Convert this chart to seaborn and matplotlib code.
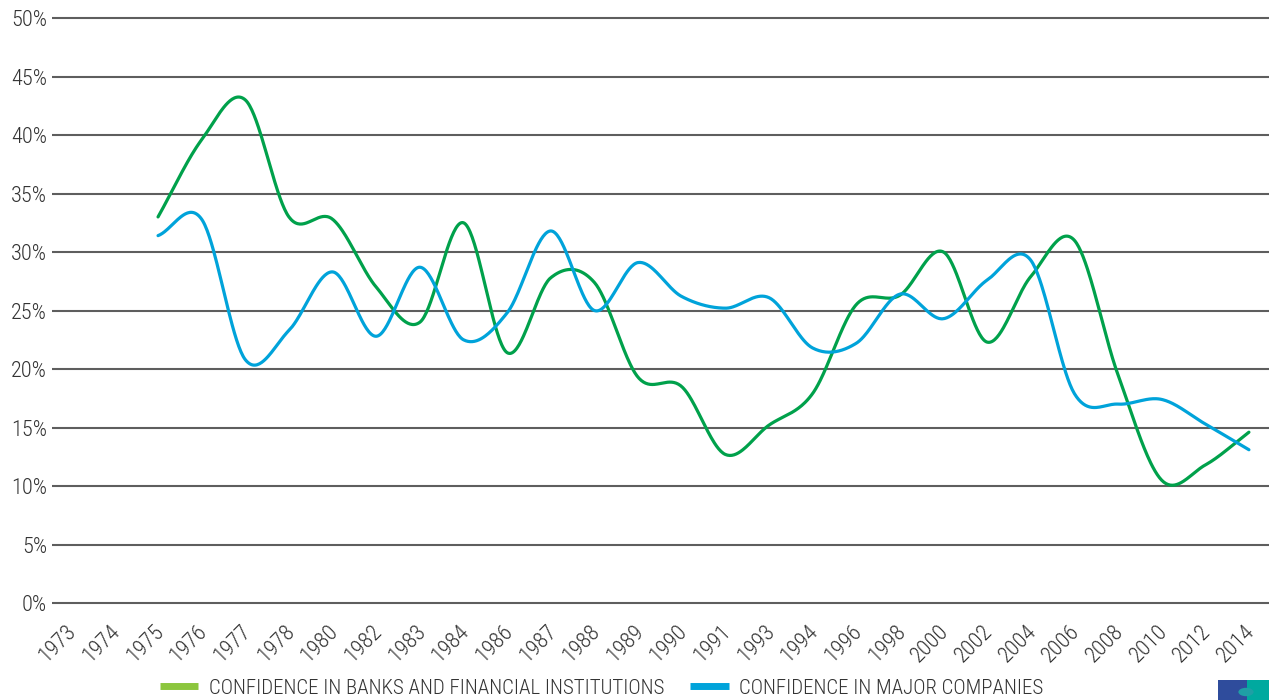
import numpy as np
import pandas as pd
import matplotlib
matplotlib.use("Agg")
import matplotlib.pyplot as plt
import seaborn as sns
from matplotlib import font_manager as fm
from matplotlib.lines import Line2D
from matplotlib.patches import Rectangle, Circle
from matplotlib.transforms import ScaledTranslation

# Category axis labels (survey years, evenly spaced)
tick_years = ["1973", "1974", "1975", "1976", "1977", "1978", "1980", "1982",
              "1983", "1984", "1986", "1987", "1988", "1989", "1990", "1991",
              "1993", "1994", "1996", "1998", "2000", "2002", "2004", "2006",
              "2008", "2010", "2012", "2014"]

# Years with observations
survey_years = ["1975", "1976", "1977", "1978", "1980", "1982", "1983", "1984",
                "1986", "1987", "1988", "1989", "1990", "1991", "1993", "1994",
                "1996", "1998", "2000", "2002", "2004", "2006", "2008", "2010",
                "2012", "2014"]

# Share with a great deal of confidence (%)
banks = [33.0, 39.6, 43.0, 33.0, 32.8, 27.0, 24.0, 32.5, 21.4, 27.8, 27.4,
         19.3, 18.5, 12.7, 15.2, 17.9, 25.5, 26.3, 30.0, 22.3, 27.9, 31.0,
         19.5, 10.5, 11.8, 14.6]
companies = [31.4, 32.8, 20.8, 23.3, 28.3, 22.8, 28.7, 22.5, 24.8, 31.8, 25.0,
             29.1, 26.2, 25.2, 26.1, 21.8, 22.2, 26.4, 24.3, 27.6, 29.3, 17.9,
             17.0, 17.4, 15.3, 13.1]

series_names = ["CONFIDENCE IN BANKS AND FINANCIAL INSTITUTIONS",
                "CONFIDENCE IN MAJOR COMPANIES"]
line_colors = ["#00a14b", "#00a3da"]
legend_colors = ["#8cc63e", "#00a3da"]


def catmull_rom(xs, ys, n=40):
    """Smooth path through the points (uniform Catmull-Rom)."""
    xs = np.asarray(xs, float)
    ys = np.asarray(ys, float)
    ext = np.concatenate([[2 * ys[0] - ys[1]], ys, [2 * ys[-1] - ys[-2]]])
    px, py = [], []
    for i in range(len(ys) - 1):
        p0, p1, p2, p3 = ext[i], ext[i + 1], ext[i + 2], ext[i + 3]
        m1 = (p2 - p0) / 2.0
        m2 = (p3 - p1) / 2.0
        t = np.linspace(0, 1, n, endpoint=(i == len(ys) - 2))
        h00 = 2 * t**3 - 3 * t**2 + 1
        h10 = t**3 - 2 * t**2 + t
        h01 = -2 * t**3 + 3 * t**2
        h11 = t**3 - t**2
        px.append(xs[i] + t * (xs[i + 1] - xs[i]))
        py.append(h00 * p1 + h10 * m1 + h01 * p2 + h11 * m2)
    return np.concatenate(px), np.concatenate(py)


def pick_narrow_font():
    """Find a condensed sans face; fall back to a regular one."""
    entries = fm.fontManager.ttflist
    for want in ["Liberation Sans Narrow", "Roboto Condensed",
                 "Open Sans Condensed", "Noto Sans Condensed"]:
        for f in entries:
            if f.name == want:
                return f.name, f.stretch, 1.0
    for f in entries:
        if f.name == "DejaVu Sans" and str(f.stretch) in ("condensed", "semi-condensed"):
            return f.name, f.stretch, 0.95
    for f in entries:
        if f.name in ("Noto Sans", "Open Sans", "Roboto") and str(f.stretch) in (
                "condensed", "semi-condensed", "extra-condensed"):
            return f.name, f.stretch, 1.0
    return "Roboto", "normal", 0.9


font_name, font_stretch, size_k = pick_narrow_font()

positions = [tick_years.index(y) for y in survey_years]
frames = []
for name, vals in zip(series_names, [banks, companies]):
    sx, sy = catmull_rom(positions, vals)
    frames.append(pd.DataFrame({"x": sx, "value": sy, "series": name}))
df = pd.concat(frames, ignore_index=True)

sns.set_theme(style="white")
plt.rcParams["font.family"] = [font_name, "DejaVu Sans"]
plt.rcParams["font.stretch"] = font_stretch
plt.rcParams["font.weight"] = "light"
text_color = "#333333"

fig = plt.figure(figsize=(12.69, 7.0), dpi=100)
ax = fig.add_axes([52 / 1269, 0.1302, 1 - 52 / 1269, 0.8524])

sns.lineplot(data=df, x="x", y="value", hue="series", palette=line_colors,
             hue_order=series_names, sort=False, estimator=None,
             linewidth=2.3, legend=False, ax=ax, zorder=3)

ax.set_ylim(-0.5, 50.5)
ax.set_xlim(-0.43, 27.46)
ax.set_yticks(np.arange(0, 51, 5))
ax.set_yticklabels([f"{v}%" for v in range(0, 51, 5)])
ax.set_xticks(range(len(tick_years)))
ax.set_xticklabels(tick_years, rotation=45, ha="right")
ax.set_xlabel("")
ax.set_ylabel("")

ax.yaxis.grid(True, color="#5e5e5e", linewidth=1.5, zorder=1)
ax.xaxis.grid(False)
ax.set_axisbelow(True)
for s in ax.spines.values():
    s.set_visible(False)
ax.tick_params(axis="both", length=0, labelsize=16 * size_k, colors=text_color)
ax.tick_params(axis="y", pad=3.5)
ax.tick_params(axis="x", pad=9)
shift = ScaledTranslation(10 / 100, 0, fig.dpi_scale_trans)
for lbl in ax.get_xticklabels():
    lbl.set_transform(lbl.get_transform() + shift)

handles = [Line2D([0], [0], color=c, linewidth=5, solid_capstyle="butt")
           for c in legend_colors]
fig.legend(handles, series_names, loc="center", bbox_to_anchor=(0.474, 0.017),
           ncol=2, frameon=False, fontsize=15 * size_k, handlelength=1.85,
           handletextpad=0.5, columnspacing=1.25, labelcolor=text_color,
           borderaxespad=0, borderpad=0)

# corner badge
fig.add_artist(Rectangle((1218 / 1269, 0), 29 / 1269, 20 / 700,
                         transform=fig.transFigure, color="#2f4c9c", lw=0))
fig.add_artist(Rectangle((1247 / 1269, 0), 22 / 1269, 20 / 700,
                         transform=fig.transFigure, color="#00a99f", lw=0))
fig.add_artist(Circle((1246 / 1269, 8 / 700), 0.006, transform=fig.transFigure,
                      color="#1f9fa5", lw=0))

fig.savefig("out.png", dpi=100)
